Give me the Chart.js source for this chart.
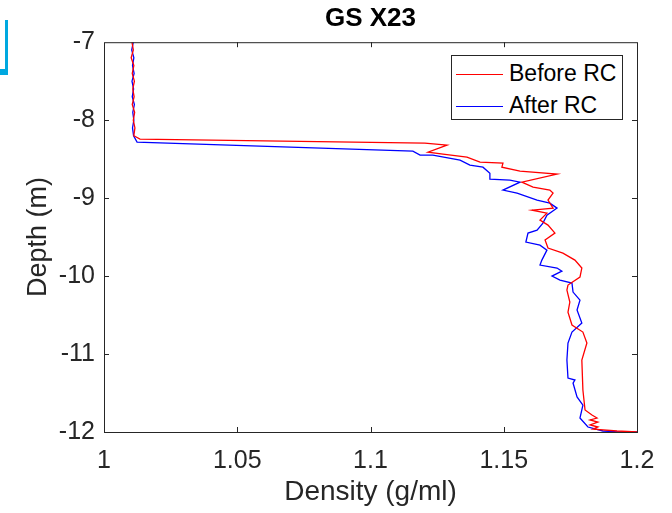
<!DOCTYPE html>
<html>
<head>
<meta charset="utf-8">
<script src="https://cdn.jsdelivr.net/npm/chart.js@4.4.1/dist/chart.umd.min.js"></script>
<style>
  html, body { margin:0; padding:0; background:#fff; }
  #wrap { position:relative; width:672px; height:513px; }
  #mark { position:absolute; left:-3px; top:20px; width:8px; height:49px;
          border-right:3px solid #00a8e0; border-bottom:6px solid #00a8e0; }
  #legend { position:absolute; left:451px; top:55px; width:170px; height:63px;
            border:1px solid #262626; background:#fff;
            font:23px "Liberation Sans", Arial, sans-serif; color:#000; }
  #legend div { position:absolute; left:4px; height:28px; line-height:28px; white-space:nowrap; }
  #legend span.ln { display:inline-block; width:47px; height:0; vertical-align:middle; margin-right:6px; }
</style>
</head>
<body>
<div id="wrap">
  <canvas id="c" width="672" height="513"></canvas>
  <div id="mark"></div>
  <div id="legend">
    <div style="top:3px"><span class="ln" style="border-top:1px solid #ff0000"></span>Before RC</div>
    <div style="top:35px"><span class="ln" style="border-top:1px solid #0000ff"></span>After RC</div>
  </div>
</div>
<script>
/* courbes : densité (g/ml) en fonction de la profondeur (m) */
const beforeDepth = [-7.0, -7.1, -7.2, -7.3, -7.4, -7.5, -7.6, -7.7, -7.8, -7.9, -8.0, -8.1, -8.2, -8.244,
  -8.295, -8.321, -8.410, -8.436, -8.474, -8.538, -8.551, -8.603, -8.654, -8.692, -8.795, -8.859,
  -8.897, -8.936, -9.026, -9.128, -9.154, -9.192, -9.282, -9.346, -9.449, -9.538, -9.641, -9.705,
  -9.795, -9.897, -10.013, -10.115, -10.179, -10.333, -10.462, -10.628, -10.718, -10.859, -11.077,
  -11.462, -11.718, -11.782, -11.821, -11.846, -11.872, -11.910, -11.936, -11.962, -11.987, -12.0];
const beforeDensity = [1.0105, 1.0110, 1.0102, 1.0112, 1.0106, 1.0114, 1.0108, 1.0113, 1.0106, 1.0115, 1.0110, 1.0116, 1.0112, 1.0135,
  1.1204, 1.1287, 1.1216, 1.1272, 1.1362, 1.1411, 1.1497, 1.1493, 1.1561, 1.1700, 1.1568, 1.1610,
  1.1673, 1.1685, 1.1666, 1.1685, 1.1606, 1.1662, 1.1636, 1.1666, 1.1692, 1.1655, 1.1666, 1.1722,
  1.1767, 1.1793, 1.1786, 1.1741, 1.1737, 1.1748, 1.1741, 1.1756, 1.1797, 1.1812, 1.1793,
  1.1797, 1.1805, 1.1831, 1.1850, 1.1824, 1.1853, 1.1824, 1.1853, 1.1835, 1.1925, 1.2000];

const afterDepth = [-7.0, -7.1, -7.2, -7.3, -7.4, -7.5, -7.6, -7.7, -7.8, -7.9, -8.0, -8.1, -8.2, -8.282,
  -8.397, -8.449, -8.449, -8.513, -8.577, -8.603, -8.680, -8.756, -8.769, -8.795, -8.897, -8.936,
  -9.026, -9.064, -9.128, -9.218, -9.321, -9.410, -9.449, -9.564, -9.603, -9.667, -9.795, -9.859,
  -9.897, -9.936, -10.0, -10.051, -10.090, -10.205, -10.308, -10.436, -10.603, -10.718, -10.859,
  -11.077, -11.308, -11.333, -11.372, -11.551, -11.654, -11.821, -11.936, -11.987, -12.0, -12.0];
const afterDensity = [1.0110, 1.0104, 1.0112, 1.0107, 1.0113, 1.0105, 1.0111, 1.0106, 1.0114, 1.0108, 1.0112, 1.0107, 1.0111, 1.0124,
  1.1159, 1.1186, 1.1234, 1.1336, 1.1373, 1.1422, 1.1448, 1.1448, 1.1523, 1.1561, 1.1497, 1.1550,
  1.1625, 1.1673, 1.1700, 1.1662, 1.1647, 1.1625, 1.1591, 1.1583, 1.1636, 1.1662, 1.1643, 1.1636,
  1.1700, 1.1718, 1.1681, 1.1711, 1.1756, 1.1760, 1.1786, 1.1775, 1.1793, 1.1756, 1.1741,
  1.1737, 1.1741, 1.1767, 1.1760, 1.1775, 1.1797, 1.1786, 1.1816, 1.1872, 1.1929, 1.2000];

const xTicks = [1, 1.05, 1.1, 1.15, 1.2];
const yTicks = [-12, -11, -10, -9, -8, -7];

const pts = (xs, ys) => xs.map((x, i) => ({x, y: ys[i]}));
const FONT = '"Liberation Sans", Arial, sans-serif';
const INK = '#262626';

/* cadre + graduations intérieures façon MATLAB */
const boxPlugin = {
  id: 'box',
  afterDraw(chart) {
    const {ctx, chartArea: a, scales: {x, y}} = chart;
    ctx.save();
    ctx.strokeStyle = INK;
    ctx.lineWidth = 1;
    ctx.strokeRect(a.left + .5, a.top + .5, a.right - a.left, a.bottom - a.top);
    ctx.beginPath();
    xTicks.slice(1, -1).forEach(v => {
      const px = Math.round(x.getPixelForValue(v)) + .5;
      ctx.moveTo(px, a.bottom); ctx.lineTo(px, a.bottom - 5);
      ctx.moveTo(px, a.top);    ctx.lineTo(px, a.top + 5);
    });
    yTicks.slice(1, -1).forEach(v => {
      const py = Math.round(y.getPixelForValue(v)) + .5;
      ctx.moveTo(a.left, py);  ctx.lineTo(a.left + 5, py);
      ctx.moveTo(a.right, py); ctx.lineTo(a.right - 5, py);
    });
    ctx.stroke();
    ctx.restore();
  }
};

new Chart(document.getElementById('c'), {
  type: 'scatter',
  data: {
    datasets: [
      {label: 'Before RC', data: pts(beforeDensity, beforeDepth), showLine: true,
       borderColor: '#ff0000', borderWidth: 1.3, pointRadius: 0, tension: 0},
      {label: 'After RC', data: pts(afterDensity, afterDepth), showLine: true,
       borderColor: '#0000ff', borderWidth: 1.3, pointRadius: 0, tension: 0}
    ]
  },
  options: {
    responsive: false,
    animation: false,
    layout: {padding: {left: 0, right: 35, top: 0, bottom: 0}},
    plugins: {
      legend: {display: false},
      tooltip: {enabled: false},
      title: {display: true, text: 'GS X23', color: '#000', fullSize: false,
              font: {family: FONT, size: 26, weight: 'bold'}, padding: {top: 3, bottom: 8}}
    },
    scales: {
      x: {
        type: 'linear', min: 1, max: 1.2,
        afterBuildTicks: s => { s.ticks = xTicks.map(v => ({value: v})); },
        afterFit: s => { s.height = 81; },
        ticks: {color: INK, font: {family: FONT, size: 25}, padding: 14,
                callback: v => String(+v.toFixed(2))},
        grid: {display: false, drawTicks: false},
        border: {display: false},
        title: {display: true, text: 'Density (g/ml)', color: INK,
                font: {family: FONT, size: 28}, padding: {top: 4, bottom: 4}}
      },
      y: {
        type: 'linear', min: -12, max: -7,
        afterBuildTicks: s => { s.ticks = yTicks.map(v => ({value: v})); },
        afterFit: s => { s.width = 104; },
        ticks: {color: INK, font: {family: FONT, size: 25}, padding: 9},
        grid: {display: false, drawTicks: false},
        border: {display: false},
        title: {display: true, text: 'Depth (m)', color: INK,
                font: {family: FONT, size: 27}, padding: {top: 22, bottom: 4}}
      }
    }
  },
  plugins: [boxPlugin]
});
</script>
</body>
</html>
